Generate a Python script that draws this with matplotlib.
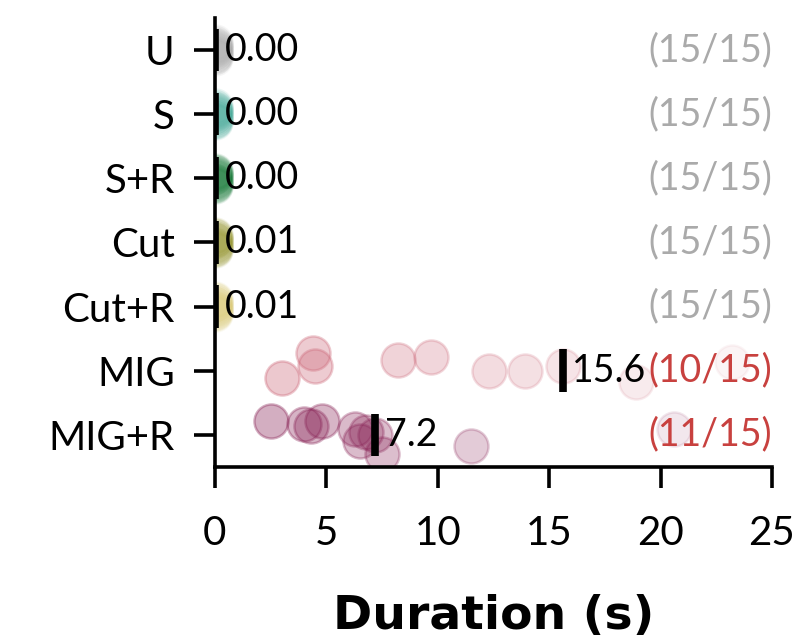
import numpy as np
import matplotlib
matplotlib.use("Agg")
import matplotlib.pyplot as plt

plt.rcParams['font.family'] = ['Lato', 'DejaVu Sans']

# Methods, top to bottom
methods = ["U", "S", "S+R", "Cut", "Cut+R", "MIG", "MIG+R"]
colors = ["#AAAAAA", "#44AA99", "#117733", "#999933", "#DDCC77", "#CC6677", "#882255"]
base_alpha = [0.10, 0.10, 0.10, 0.10, 0.10, 0.40, 0.40]
n_trials = 15

# Durations (s) of successful runs per method
dur_u = [0.002, 0.003, 0.002, 0.004, 0.003, 0.002, 0.003, 0.002, 0.004, 0.003, 0.002, 0.003, 0.002, 0.003, 0.004]
dur_s = [0.003, 0.002, 0.004, 0.003, 0.002, 0.003, 0.004, 0.002, 0.003, 0.002, 0.003, 0.004, 0.003, 0.002, 0.003]
dur_sr = [0.004, 0.003, 0.002, 0.003, 0.004, 0.002, 0.003, 0.003, 0.004, 0.002, 0.003, 0.004, 0.002, 0.003, 0.003]
dur_cut = [0.008, 0.010, 0.011, 0.009, 0.012, 0.010, 0.009, 0.011, 0.010, 0.013, 0.008, 0.010, 0.012, 0.009, 0.011]
dur_cutr = [0.009, 0.011, 0.010, 0.012, 0.008, 0.010, 0.011, 0.009, 0.013, 0.010, 0.012, 0.009, 0.010, 0.011, 0.008]
dur_mig = [3.0, 4.4, 4.5, 8.2, 9.7, 12.3, 13.9, 15.6, 18.9, 23.2]
dur_migr = [2.5, 4.0, 4.3, 4.8, 6.3, 6.5, 6.8, 7.2, 7.5, 11.5, 20.6]
durations = [dur_u, dur_s, dur_sr, dur_cut, dur_cutr, dur_mig, dur_migr]

# Vertical offsets of each run within its row
jit_small = [-0.12, 0.05, -0.02, 0.10, -0.08, 0.02, 0.12, -0.05, 0.07, -0.10, 0.0, 0.09, -0.06, 0.04, -0.03]
jit_mig = [0.12, -0.27, -0.08, -0.16, -0.22, 0.0, 0.0, -0.08, 0.17, -0.14]
jit_migr = [-0.22, -0.17, -0.14, -0.22, -0.09, 0.09, -0.05, 0.0, 0.3, 0.17, -0.09]
jitters = [jit_small] * 5 + [jit_mig, jit_migr]

fig = plt.figure(figsize=(8.05, 6.43), dpi=100)
ax = fig.add_axes([0.267, 0.274, 0.692, 0.698])

x_max = 25
for i, (d, j, c, ba) in enumerate(zip(durations, jitters, colors, base_alpha)):
    d = np.asarray(d, dtype=float)
    y = i + np.asarray(j[:len(d)])
    alphas = ba * (1 - d / 28.0)
    for xv, yv, a in zip(d, y, alphas):
        ax.scatter(xv, yv, s=600, color=c, alpha=a, linewidths=1.8,
                   edgecolors=c, zorder=2)

    # median over all trials, failed runs counted as unfinished
    allv = np.sort(np.concatenate([d, np.full(n_trials - len(d), np.inf)]))
    med = allv[n_trials // 2]
    ax.plot([med, med], [i - 0.33, i + 0.33], color="black", lw=5.5,
            solid_capstyle="butt", zorder=4)
    lab = f"{med:.2f}" if med < 1 else f"{med:.1f}"
    ax.annotate(lab, (med, i), xytext=(7, 0), textcoords="offset points",
                ha="left", va="center", fontsize=27, zorder=5)

    n_ok = len(d)
    ax.text(x_max, i, f"({n_ok}/{n_trials})", ha="right", va="center",
            fontsize=27, color="#AAAAAA" if n_ok == n_trials else "#C8413F",
            zorder=5)

ax.set_xlim(0, x_max)
ax.set_ylim(6.5, -0.5)
ax.set_yticks(range(len(methods)))
ax.set_yticklabels(methods)
ax.set_xticks([0, 5, 10, 15, 20, 25])
ax.tick_params(axis="both", length=15, width=2.6, labelsize=29, direction="out")
ax.tick_params(axis="y", pad=14)
ax.tick_params(axis="x", pad=20)
for side in ("top", "right"):
    ax.spines[side].set_visible(False)
for side in ("left", "bottom"):
    ax.spines[side].set_linewidth(2.6)
ax.set_xlabel("Duration (s)", fontsize=34, fontweight="bold",
              family=["DejaVu Sans"], labelpad=30)

fig.savefig("out.png", dpi=100)
